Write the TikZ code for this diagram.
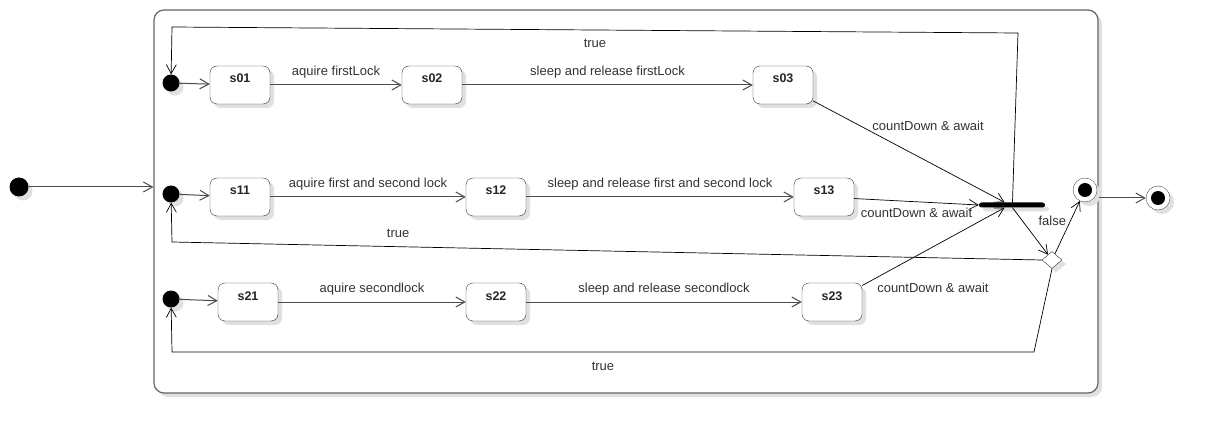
\documentclass[tikz,border=0pt]{standalone}
\usepackage{fontspec}
\setmainfont{Liberation Sans}
\usetikzlibrary{arrows.meta,shapes.geometric,shadows}

\tikzset{
  shade/.style={drop shadow={shadow xshift=4pt,shadow yshift=-4pt,fill=black!12,opacity=1}},
  state/.style={draw=black!80, fill=white, rounded corners=7pt, shade,
    minimum width=60pt, inner xsep=0pt, inner ysep=8pt, text height=9pt, text depth=13pt,
    font=\fontsize{12.5}{14}\selectfont\bfseries, text=black!85},
  comp/.style={draw=black!60, line width=1.2pt, fill=white, rounded corners=10pt,
    minimum width=944pt, minimum height=383pt, shade},
  startdot/.style={circle, fill=black, minimum size=17pt, inner sep=0pt, shade},
  enddot/.style={circle, draw=black!70, fill=white, minimum size=24pt, inner sep=0pt, shade,
    path picture={\fill[black] (path picture bounding box.center) circle (7pt);}},
  forkbar/.style={fill=black, rounded corners=2.5pt, minimum width=66pt, minimum height=5pt, inner sep=0pt, shade},
  choice/.style={diamond, draw=black!80, fill=white, minimum width=20pt, minimum height=17pt, inner sep=0pt, shade},
  lbl/.style={font=\fontsize{13}{15}\selectfont, text=black!80},
  trans/.style={draw=black!70, line width=1pt, ->},
  link/.style={draw=black, line width=0.7pt, ->}
}

\begin{document}
\begin{tikzpicture}[x=1pt, y=-1pt, >={Straight Barb[length=9pt,width=10pt]}]
\useasboundingbox (0,0) rectangle (1211,433);

\node[comp] (box) at (626,201.5) {};

\node[startdot, minimum size=19pt] (start) at (19,187) {};
\node[startdot] (i0) at (171,83) {};
\node[startdot] (i1) at (171,194) {};
\node[startdot] (i2) at (171,299) {};

\node[state] (s01) at (240,85) {s01};
\node[state] (s02) at (432,85) {s02};
\node[state] (s03) at (783,85) {s03};
\node[state] (s11) at (240,197) {s11};
\node[state] (s12) at (496,197) {s12};
\node[state] (s13) at (824,197) {s13};
\node[state] (s21) at (248,302) {s21};
\node[state] (s22) at (496,302) {s22};
\node[state] (s23) at (832,302) {s23};

\node[forkbar] (bar) at (1012,205) {};
\node[choice] (dec) at (1052,260) {};
\node[enddot] (fin) at (1085,190) {};
\node[enddot] (stop) at (1158,198) {};

\draw[trans] (start) -- (start -| box.west);
\draw[trans] (i0) -- (s01);
\draw[trans] (i1) -- (s11);
\draw[trans] (i2) -- (s21);

\draw[trans] (s01) -- node[lbl,above=3pt] {aquire firstLock} (s02);
\draw[trans] (s02) -- node[lbl,above=3pt] {sleep and release firstLock} (s03);
\draw[trans] (s11) -- node[lbl,above=3pt] {aquire first and second lock} (s12);
\draw[trans] (s12) -- node[lbl,above=3pt] {sleep and release first and second lock} (s13);
\draw[trans] (s21) -- node[lbl,above=3pt] {aquire secondlock} (s22);
\draw[trans] (s22) -- node[lbl,above=3pt] {sleep and release secondlock} (s23);

\draw[link] (s03) -- node[lbl,pos=0.29,anchor=south west,yshift=-4pt] {countDown \& await} (bar.160);
\draw[link] (s13) -- node[lbl,below=3pt] {countDown \& await} (bar.west);
\draw[link] (s23) -- node[lbl,pos=0.08,anchor=north west] {countDown \& await} (bar.200);

\draw[link] (bar.-80) -- (dec);
\draw[link] (dec) -- node[lbl,above left,inner sep=1pt] {false} (fin);
\draw[trans] (stop -| box.east) -- (stop);

%\draw[link] (bar) -- (fin);
\draw[link] (bar.80) -- (1018,33) -- node[lbl,below=5pt] {true} (172,27) -- (i0);
\draw[link] (dec.west) -- node[lbl,above=5pt,pos=0.74] {true} (172,242) -- (i1);
\draw[link] (dec.south) -- (1034,352) -- node[lbl,below=6pt] {true} (172,352) -- (i2);
\end{tikzpicture}
\end{document}
